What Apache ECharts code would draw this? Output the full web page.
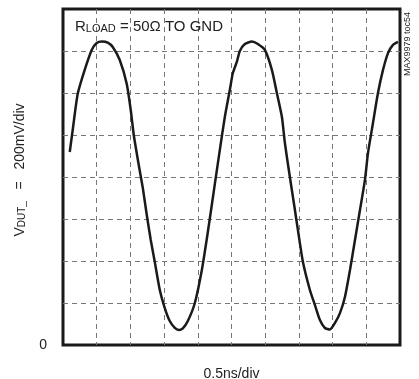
<!DOCTYPE html>
<html>
<head>
<meta charset="utf-8">
<script src="https://cdn.jsdelivr.net/npm/echarts@6/dist/echarts.min.js"></script>
<style>html,body{margin:0;padding:0;background:#fff}#c{width:419px;height:379px}</style>
</head>
<body>
<div id="c"></div>
<script>
// time in ns (0.5ns/div), voltage in mV (200mV/div)
const timeNs = [0.10,0.144,0.218,0.322,0.426,0.500,0.575,0.664,0.738,0.842,0.946,1.005,1.050,1.124,1.184,1.243,1.302,1.362,1.436,1.510,1.584,1.659,1.718,1.778,1.852,1.956,2.060,2.149,2.253,2.327,2.401,2.475,2.520,2.579,2.624,2.698,2.802,2.891,2.995,3.099,3.173,3.248,3.292,3.366,3.441,3.485,3.560,3.663,3.738,3.812,3.886,3.960,4.035,4.109,4.183,4.258,4.332,4.406,4.480,4.525,4.599,4.673,4.748,4.822,4.896,4.970];
const vdutMv = [919,1024,1195,1310,1405,1438,1445,1440,1419,1357,1243,1119,1000,857,748,619,500,395,262,176,114,81,71,79,114,200,357,538,767,929,1086,1214,1295,1348,1400,1433,1445,1433,1405,1310,1200,1086,962,800,643,548,395,262,190,119,81,74,105,152,229,357,500,643,786,914,1057,1200,1310,1390,1429,1443];
const xTicks = {min: 0, max: 5, interval: 0.5};
const yTicks = {min: 0, max: 1600, interval: 200};
const yTickLabels = ['0'];

const FONT = 'Liberation Sans, Arial, sans-serif';
const chart = echarts.init(document.getElementById('c'), null, {renderer: 'canvas'});
const points = timeNs.map((t, i) => [t, vdutMv[i]]);
chart.setOption({
  animation: false,
  backgroundColor: '#fff',
  grid: {left: 63, top: 9, right: 19, bottom: 34, outerBoundsMode: 'none', containLabel: false,
    show: true, borderColor: '#1a1a1a', borderWidth: 3, backgroundColor: 'transparent'},
  xAxis: {
    type: 'value', min: xTicks.min, max: xTicks.max, interval: xTicks.interval,
    axisLine: {show: false}, axisTick: {show: false}, axisLabel: {show: false},
    splitLine: {show: true, showMinLine: false, showMaxLine: false, lineStyle: {color: '#777', width: 1, type: [5, 4]}},
    name: '0.5ns/div', nameLocation: 'middle', nameGap: 22,
    nameTextStyle: {fontFamily: FONT, fontSize: 14, color: '#222'}
  },
  yAxis: {
    type: 'value', min: yTicks.min, max: yTicks.max, interval: yTicks.interval,
    axisLine: {show: false}, axisTick: {show: false},
    axisLabel: {show: true, margin: 16, fontFamily: FONT, fontSize: 14, color: '#222', padding: [0, 0, 8, 0],
      formatter: v => (v === 0 ? yTickLabels[0] : '')},
    splitLine: {show: true, showMinLine: false, showMaxLine: false, lineStyle: {color: '#777', width: 1, type: [5, 4]}}
  },
  graphic: [
    {type: 'text', left: 75, top: 19, z: 10,
      style: {text: '{n|R}{s|LOAD}{n| = 50Ω TO GND}', fill: '#222',
        rich: {n: {fontFamily: FONT, fontSize: 15, padding: [0, 0, 4, 0], fill: '#222'},
               s: {fontFamily: FONT, fontSize: 11, fill: '#222'}}}},
    {type: 'text', x: 22, y: 170, rotation: Math.PI / 2, z: 10,
      style: {text: '{n|V}{s|DUT_}{n|   =   200mV/div}', fill: '#222', align: 'center', verticalAlign: 'middle',
        rich: {n: {fontFamily: FONT, fontSize: 14, padding: [0, 0, 4, 0], fill: '#222'},
               s: {fontFamily: FONT, fontSize: 10, fill: '#222'}}}},
    {type: 'text', x: 408, y: 44, rotation: Math.PI / 2, z: 10,
      style: {text: 'MAX9979 toc54', fontFamily: FONT, fontSize: 9, fill: '#222', align: 'center', verticalAlign: 'middle'}}
  ],
  series: [{
    type: 'line', data: points, showSymbol: false, smooth: 0.2,
    lineStyle: {color: '#1a1a1a', width: 2.5}
  }]
});
</script>
</body>
</html>
